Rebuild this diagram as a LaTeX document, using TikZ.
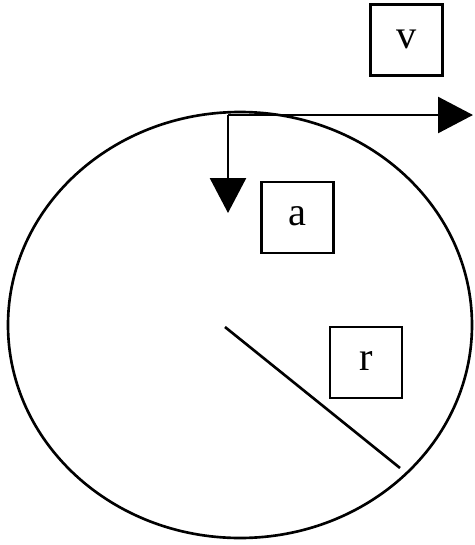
\documentclass[tikz,border=0pt]{standalone}
\usepackage{fontspec}
\setmainfont{Liberation Serif}
\usetikzlibrary{arrows.meta}
\begin{document}
\begin{tikzpicture}[x=0.02cm,y=-0.02cm,
  lbl/.style={draw, line width=1.5pt, minimum width=1.44cm, minimum height=1.42cm, inner sep=0pt,
    font=\fontsize{23}{27}\selectfont, text height=0.95em, text depth=0pt},
  vec/.style={line width=1.5pt, -{Triangle[length=0.7cm,width=0.72cm]}},
  thin line/.style={line width=1.5pt}]
\useasboundingbox (0,0) rectangle (474,545);
\draw[thin line] (240,325) ellipse [x radius=232, y radius=213];
\coordinate (P) at (228,115);
\coordinate (vtip) at (473,115);
\coordinate (atip) at (228,213);
\coordinate (r0) at (225,327);
\coordinate (r1) at (400,468);
\draw[vec] (P) -- (vtip);
\draw[vec] (P) -- (atip);
\draw[thin line] (r0) -- (r1);
\node[lbl] (v) at (406.5,40) {v};
\node[lbl] (a) at (297.5,217.5) {a};
\node[lbl] (r) at (366,362.5) {r};
\end{tikzpicture}
\end{document}
